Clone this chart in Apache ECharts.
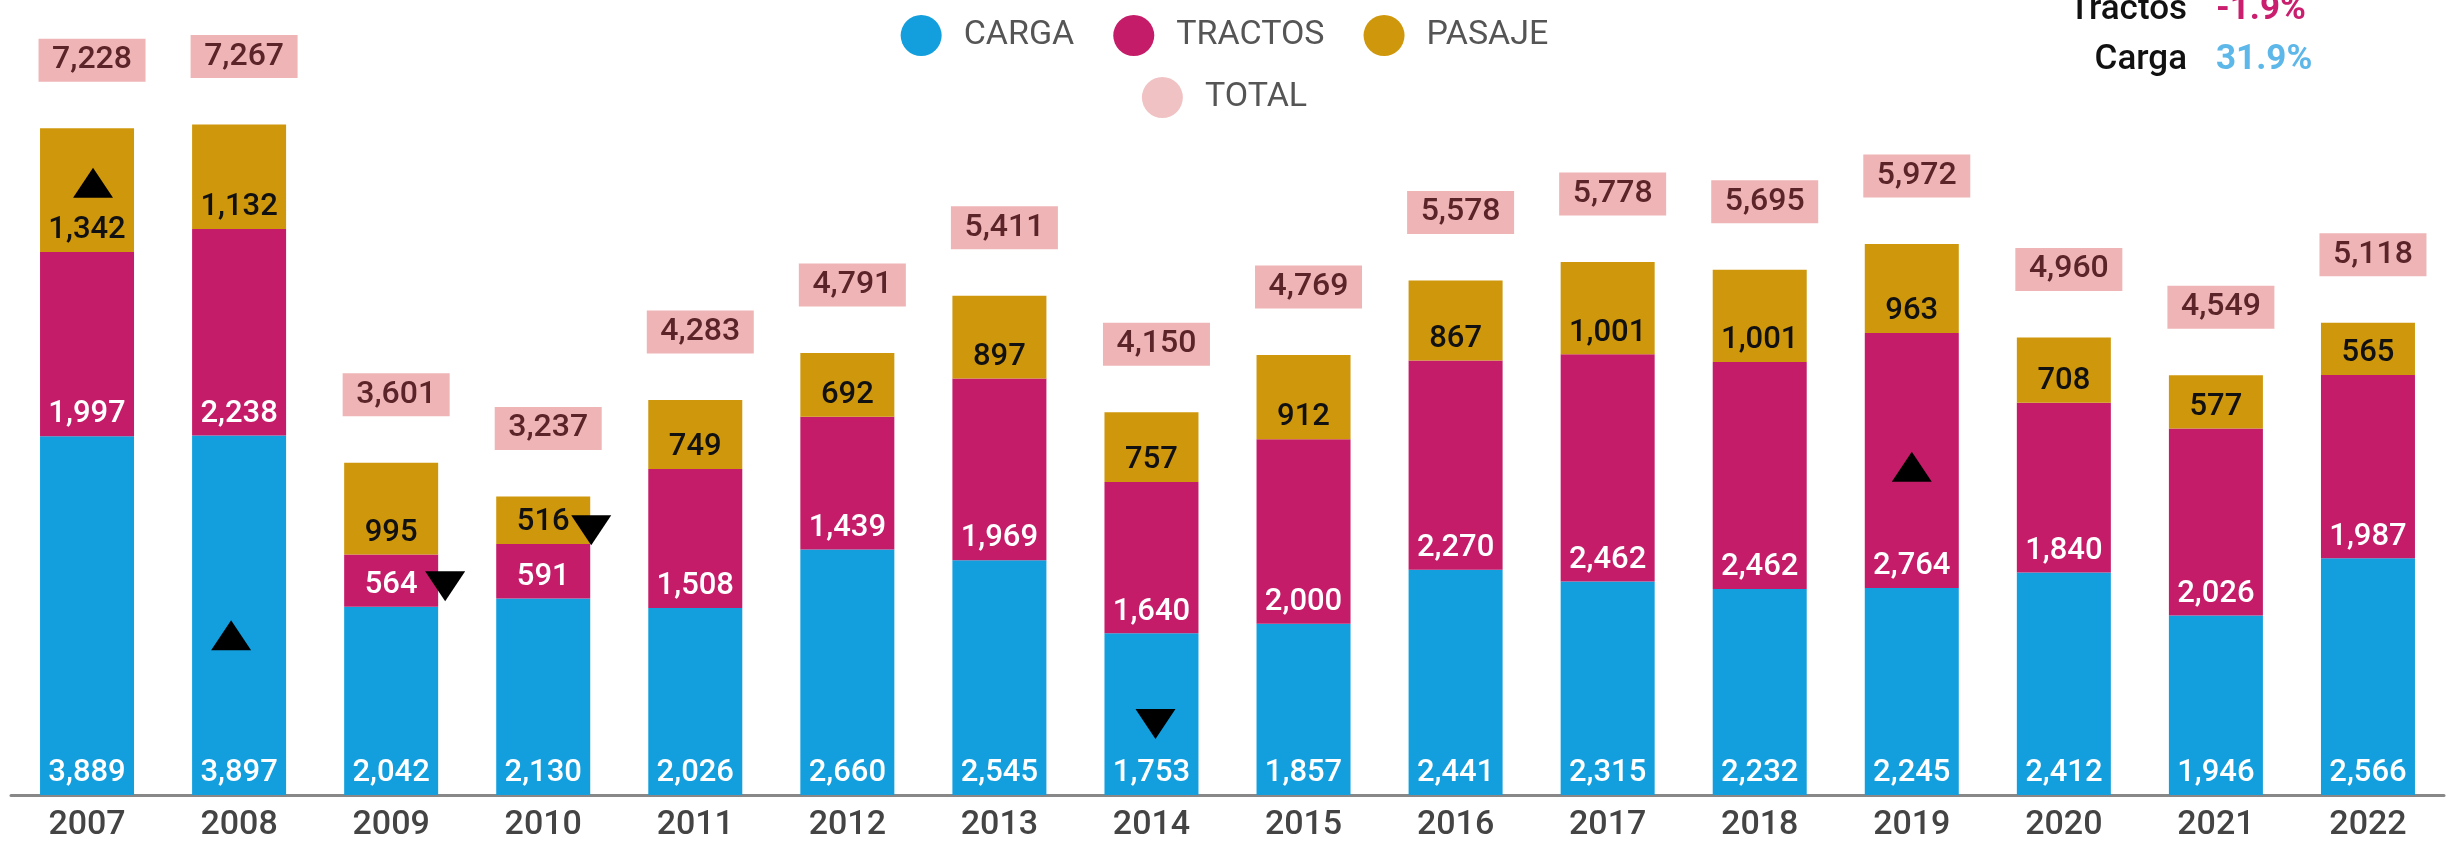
<!DOCTYPE html>
<html>
<head>
<meta charset="utf-8">
<script src="https://cdn.jsdelivr.net/npm/echarts@6/dist/echarts.min.js"></script>
<style>
html,body{margin:0;padding:0;background:#fff;}
#c{width:2449px;height:849px;}
</style>
</head>
<body>
<div id="c"></div>
<script>
const years = ['2007','2008','2009','2010','2011','2012','2013','2014','2015','2016','2017','2018','2019','2020','2021','2022'];
const carga   = [3889,3897,2042,2130,2026,2660,2545,1753,1857,2441,2315,2232,2245,2412,1946,2566];
const tractos = [1997,2238,564,591,1508,1439,1969,1640,2000,2270,2462,2462,2764,1840,2026,1987];
const pasaje  = [1342,1132,995,516,749,692,897,757,912,867,1001,1001,963,708,577,565];
const total   = [7228,7267,3601,3237,4283,4791,5411,4150,4769,5578,5778,5695,5972,4960,4549,5118];

// change markers (triangles): year, level on value scale, direction
const markerYears = ['2007','2008','2009','2010','2014','2019'];
const markerLevel = [6636,1733,2264,2871,769,3559];
const markerDir   = ['up','up','down','down','down','up'];

const notes = [['Tractos','-1.9%'],['Carga','31.9%']];

const C_CARGA = '#139FDD', C_TRACTOS = '#C41C69', C_PASAJE = '#CF970B';
const fmt = v => Number(v).toLocaleString('en-US');

const chart = echarts.init(document.getElementById('c'), null, {renderer:'canvas'});

const barLabel = (color) => ({
  show: true, position: 'insideBottom', distance: 6,
  color: color, fontFamily: 'Roboto', fontSize: 31, fontWeight: 500,
  formatter: p => fmt(p.value)
});

// per-marker horizontal nudges (style only)
const markerShift = [6, -8, 54, 48, 4, 0];

const option = {
  backgroundColor: '#ffffff',
  animation: false,
  grid: {left: 11, right: 5, top: 57, bottom: 54},
  legend: [
    {
      top: 10, left: 'center', itemWidth: 41, itemHeight: 41, itemGap: 39, icon: 'circle',
      data: ['CARGA','TRACTOS','PASAJE'],
      textStyle: {fontFamily: 'Roboto', fontSize: 34, color: '#555555', padding: [0,0,0,17]}
    },
    {
      top: 72, left: 'center', itemWidth: 41, itemHeight: 41, icon: 'circle',
      data: [{name: 'TOTAL', itemStyle: {color: '#F0C2C4', opacity: 1}}],
      textStyle: {fontFamily: 'Roboto', fontSize: 34, color: '#555555', padding: [0,0,0,17]}
    }
  ],
  xAxis: {
    type: 'category', data: years,
    axisLine: {show: true, lineStyle: {color: '#888888', width: 3}},
    axisTick: {show: false},
    axisLabel: {fontFamily: 'Roboto', fontSize: 34, fontWeight: 500, color: '#444444', margin: 13}
  },
  yAxis: {type: 'value', min: 0, max: 8000, show: false, splitLine: {show: false}},
  series: [
    {name: 'CARGA', type: 'bar', stack: 's', barWidth: 94, data: carga,
     itemStyle: {color: C_CARGA}, label: barLabel('#ffffff')},
    {name: 'TRACTOS', type: 'bar', stack: 's', barWidth: 94, data: tractos,
     itemStyle: {color: C_TRACTOS}, label: barLabel('#ffffff')},
    {name: 'PASAJE', type: 'bar', stack: 's', barWidth: 94, data: pasaje,
     itemStyle: {color: C_PASAJE}, label: barLabel('#111111')},
    {name: 'TOTAL', type: 'scatter', data: total, symbolSize: 1,
     itemStyle: {color: 'rgba(0,0,0,0)', opacity: 1},
     label: {show: true, position: 'top', distance: 46,
       backgroundColor: '#EFB4B6', color: '#5B2428', fontFamily: 'Roboto', fontSize: 32, fontWeight: 500,
       lineHeight: 33, width: 85, align: 'center', padding: [5, 11, 5, 11], offset: [5, 0],
       formatter: p => fmt(p.value)},
     z: 5},
    {name: 'marks', type: 'scatter', z: 6,
     data: markerYears.map((y, i) => ({
       value: [y, markerLevel[i]],
       symbolRotate: markerDir[i] === 'down' ? 180 : 0,
       symbolOffset: [markerShift[i], 0]
     })),
     symbol: 'triangle', symbolSize: [40, 30],
     itemStyle: {color: '#000000', opacity: 1}, label: {show: false}}
  ],
  graphic: notes.map((n, i) => ({
    type: 'group', silent: true,
    children: [
      {type: 'text', x: 2187, y: 10 + i * 50,
       style: {text: n[0], font: '500 35px Roboto', fill: '#111111', align: 'right', verticalAlign: 'middle'}},
      {type: 'text', x: 2216, y: 10 + i * 50,
       style: {text: n[1], font: 'bold 35px Roboto', fill: i === 0 ? '#C91F6E' : '#5DB7E8', align: 'left', verticalAlign: 'middle'}}
    ]
  }))
};
chart.setOption(option);
</script>
</body>
</html>
